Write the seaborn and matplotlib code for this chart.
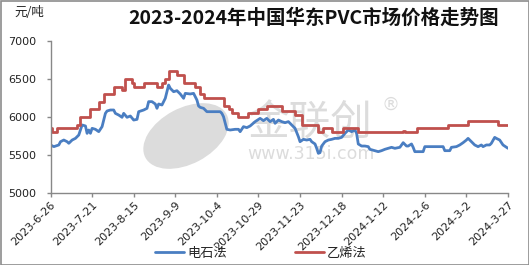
import numpy as np
import pandas as pd
import matplotlib
matplotlib.use("Agg")
import matplotlib.pyplot as plt
from matplotlib.patches import Ellipse, Rectangle
from matplotlib.transforms import IdentityTransform
import seaborn as sns

# ---------------- data ----------------
start_date = "2023-06-26"
tick_labels = ["2023-6-26", "2023-7-21", "2023-8-15", "2023-9-9", "2023-10-4",
               "2023-10-29", "2023-11-23", "2023-12-18", "2024-1-12", "2024-2-6",
               "2024-3-2", "2024-3-27"]

blue_name = "电石法"
blue_days = [0, 2, 5, 6, 8, 10, 11, 13, 15, 17, 18, 19, 21, 22, 23, 24, 25, 27, 29, 31,
             33, 34, 36, 38, 39, 41, 43, 44, 46, 48, 50, 52, 53, 56, 58, 59, 61, 63, 64, 65,
             67, 68, 69, 71, 72, 74, 76, 78, 80, 81, 84, 86, 88, 89, 90, 92, 94, 98, 102, 103,
             104, 106, 108, 111, 113, 114, 116, 118, 120, 123, 126, 128, 130, 132, 134, 135, 137, 139, 141, 143,
             145, 147, 149, 150, 152, 154, 156, 157, 159, 160, 161, 162, 163, 165, 167, 169, 171, 173, 175, 177,
             179, 181, 183, 184, 185, 187, 189, 191, 192, 195, 197, 199, 201, 203, 205, 207, 210, 212, 214, 215,
             217, 218, 219, 221, 224, 225, 228, 232, 236, 237, 240, 241, 244, 246, 248, 250, 251, 253, 255, 257,
             259, 260, 262, 264, 265, 267, 268, 270, 272, 275]
blue_vals = [5632, 5610, 5632, 5675, 5697, 5675, 5654, 5697, 5719, 5763, 5829, 5895, 5882, 5785, 5829, 5785, 5851, 5838, 5807, 5873,
             6048, 6079, 6092, 6092, 6048, 6026, 5996, 6048, 5996, 6013, 5960, 5969, 6070, 6092, 6114, 6202, 6202, 6171, 6114, 6171,
             6158, 6202, 6246, 6421, 6377, 6333, 6346, 6303, 6246, 6311, 6303, 6311, 6224, 6145, 6127, 6114, 6070, 6070, 6070, 6048,
             6004, 5838, 5829, 5838, 5838, 5807, 5873, 5860, 5882, 5939, 5982, 5952, 5982, 5939, 5969, 5917, 5960, 5939, 5925, 5939,
             5895, 5851, 5741, 5675, 5706, 5697, 5706, 5675, 5645, 5588, 5522, 5531, 5618, 5675, 5697, 5706, 5719, 5719, 5732, 5785,
             5829, 5807, 5829, 5785, 5645, 5618, 5618, 5610, 5575, 5557, 5544, 5557, 5575, 5588, 5601, 5588, 5601, 5662, 5618, 5618,
             5645, 5601, 5544, 5544, 5544, 5610, 5610, 5610, 5610, 5557, 5557, 5601, 5610, 5632, 5662, 5697, 5719, 5675, 5632, 5610,
             5632, 5610, 5632, 5632, 5654, 5732, 5719, 5697, 5632, 5588]

red_name = "乙烯法"
red_days = [0, 1, 4, 16, 18, 24, 29, 32, 38, 43, 45, 49, 50, 56, 64, 67, 69, 71, 76, 80,
            87, 90, 92, 104, 107, 109, 113, 119, 125, 130, 139, 147, 151, 161, 164, 169, 176, 185, 212, 213,
            220, 239, 251, 269, 275]
red_vals = [5850, 5800, 5850, 5900, 6000, 6100, 6200, 6300, 6400, 6350, 6500, 6450, 6400, 6450, 6400, 6450, 6500, 6600, 6550, 6450,
            6400, 6300, 6250, 6150, 6100, 6050, 6000, 6050, 6100, 6150, 6080, 6020, 5900, 5800, 5850, 5800, 5850, 5800, 5820, 5800,
            5850, 5900, 5950, 5900, 5900]

title = "2023-2024年中国华东PVC市场价格走势图"
unit_label = "元/吨"
y_ticks = [5000, 5500, 6000, 6500, 7000]

assert len(blue_days) == len(blue_vals)
assert len(red_days) == len(red_vals)

# ---------------- build frames ----------------
t0 = pd.Timestamp(start_date)
df_blue = pd.DataFrame({"date": t0 + pd.to_timedelta(blue_days, unit="D"), "price": blue_vals})
df_red = pd.DataFrame({"date": t0 + pd.to_timedelta(red_days, unit="D"), "price": red_vals})
tick_dates = pd.to_datetime(tick_labels, format="%Y-%m-%d")

# ---------------- style ----------------
sns.set_style("white")
plt.rcParams["font.family"] = ["DejaVu Sans", "Noto Sans CJK SC"]
cjk = ["Noto Sans CJK SC", "DejaVu Sans"]

W, H = 529, 265
fig = plt.figure(figsize=(W / 100, H / 100), dpi=100)
ax = fig.add_axes([50.5 / W, 1 - 193 / H, (508 - 50.5) / W, (193 - 41) / H])
ax.patch.set_alpha(0)

blue_c = "#4A7EC2"
red_c = "#C0504D"

sns.lineplot(data=df_blue, x="date", y="price", ax=ax, color=blue_c, linewidth=2.0,
             label=blue_name, legend=False)
sns.lineplot(data=df_red, x="date", y="price", ax=ax, color=red_c, linewidth=2.0,
             label=red_name, legend=False, drawstyle="steps-post")

ax.set_xlim(tick_dates[0], tick_dates[-1])
ax.set_ylim(y_ticks[0], y_ticks[-1])
ax.set_yticks(y_ticks)
ax.set_yticklabels([str(v) for v in y_ticks], fontsize=8, color="#222222")
ax.set_xticks(tick_dates)
ax.set_xticklabels(tick_labels, fontsize=8, color="#222222", rotation=45,
                   ha="right", va="top", rotation_mode="anchor")
ax.set_xlabel("")
ax.set_ylabel("")
for s in ["top", "right"]:
    ax.spines[s].set_visible(False)
for s in ["left", "bottom"]:
    ax.spines[s].set_color("#888888")
    ax.spines[s].set_linewidth(1.0)
ax.tick_params(axis="y", length=3, width=1, color="#888888", pad=7, direction="out", left=True)
ax.tick_params(axis="x", length=3, width=1, color="#888888", pad=2, direction="out", bottom=True)
ax.grid(False)

# title and unit
fig.text(314 / W, 1 - 17.5 / H, title, fontsize=14, fontweight="bold", family=cjk,
         ha="center", va="center", color="#111111")
fig.text(29 / W, 1 - 12.5 / H, unit_label, fontsize=9, family=cjk,
         ha="center", va="center", color="#222222")

# legend
handles, labels = ax.get_legend_handles_labels()
fig.legend(handles, labels, loc="center", bbox_to_anchor=(261 / W, 1 - 253 / H), ncol=2,
           frameon=False, prop={"family": cjk, "size": 9.5}, handlelength=2.2,
           handletextpad=0.2, columnspacing=5.2, borderpad=0)

# watermark (behind the data)
pix = IdentityTransform()
wm = "#dcdcdc"
e = Ellipse((186, H - 136), 92, 56, angle=28, transform=pix, facecolor=wm, edgecolor="none", zorder=-2)
fig.patches.append(e)
fig.text(310 / W, 1 - 124 / H, "金联创", fontsize=30, family=cjk, color=wm,
         ha="center", va="center", zorder=-1)
fig.text(311 / W, 1 - 154 / H, "www.315i.com", fontsize=12.5, color=wm,
         ha="center", va="center", zorder=-1)
fig.text(391 / W, 1 - 105 / H, "®", fontsize=13, color=wm, ha="center", va="center", zorder=-1)

# figure border
fig.patches.append(Rectangle((0.5, 0.5), W - 1, H - 1, transform=pix, fill=False,
                             edgecolor="#8c8c8c", linewidth=1.2, zorder=10))

fig.savefig("out.png", dpi=100)
